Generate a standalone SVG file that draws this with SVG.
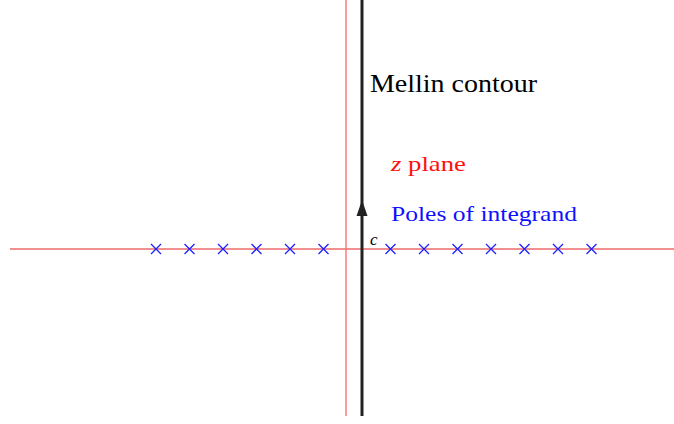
<svg xmlns="http://www.w3.org/2000/svg" width="674" height="424" viewBox="0 0 674 424">
<style>
.pole{stroke:#2020ff;stroke-width:1.3;fill:none}
</style>
<defs>
<path id="x" d="M-5,-5L5,5M-5,5L5,-5"/>
</defs>
<rect width="674" height="424" fill="#fff"/>
<g id="connectors">
<line id="real-axis" x1="10" y1="249" x2="674" y2="249" stroke="#e02020" stroke-width="1"/>
<line id="z-plane-line" x1="346" y1="0" x2="346" y2="416" stroke="#ff7070" stroke-width="1.4"/>
<line id="mellin-contour" x1="362" y1="0" x2="362" y2="416" stroke="#222" stroke-width="3"/>
<path d="M362,200L356.5,216L367.5,216Z" fill="#222"/>
</g>
<g id="poles" class="pole">
<use href="#x" x="156" y="249"/>
<use href="#x" x="189.5" y="249"/>
<use href="#x" x="223" y="249"/>
<use href="#x" x="256.5" y="249"/>
<use href="#x" x="290" y="249"/>
<use href="#x" x="323.5" y="249"/>
<use href="#x" x="390.5" y="249"/>
<use href="#x" x="424" y="249"/>
<use href="#x" x="457.5" y="249"/>
<use href="#x" x="491" y="249"/>
<use href="#x" x="524.5" y="249"/>
<use href="#x" x="558" y="249"/>
<use href="#x" x="591.5" y="249"/>
</g>
<g id="label-mellin"><text font-family="Liberation Serif, serif" x="370" y="92" font-size="25" textLength="167" lengthAdjust="spacingAndGlyphs" fill="#000">Mellin contour</text></g>
<g id="label-zplane"><text font-family="Liberation Serif, serif" x="391" y="171" font-size="22" textLength="75" lengthAdjust="spacingAndGlyphs" fill="#ff1010"><tspan font-style="italic">z</tspan> plane</text></g>
<g id="label-poles"><text font-family="Liberation Serif, serif" x="391" y="221" font-size="22" textLength="186" lengthAdjust="spacingAndGlyphs" fill="#1010ff">Poles of integrand</text></g>
<g id="label-c"><text font-family="Liberation Serif, serif" x="370" y="245" font-size="17" font-style="italic" fill="#000">c</text></g>
</svg>
